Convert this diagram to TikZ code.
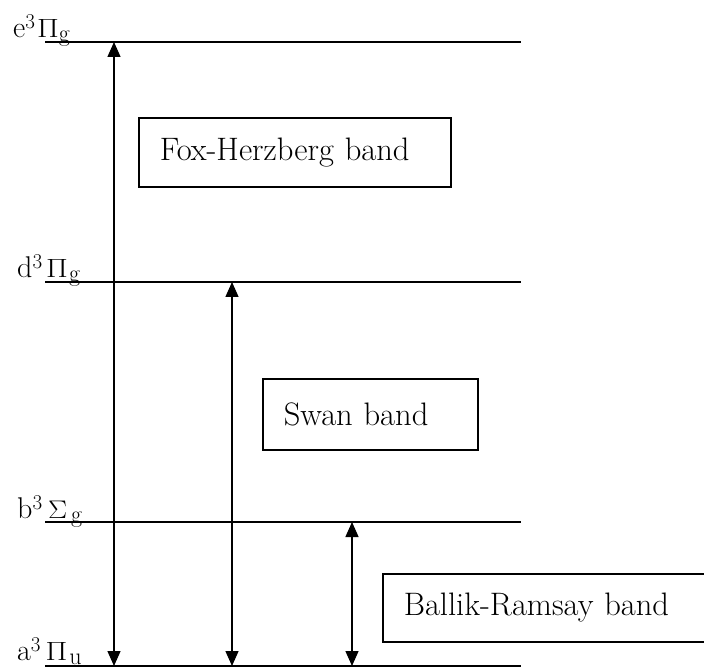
\RequirePackage{fix-cm}
\documentclass[tikz,border=0pt]{standalone}
\usepackage{fontspec}
\usepackage{graphicx}
\usetikzlibrary{arrows.meta}
\newcommand{\bandfont}{\fontsize{32.5}{38}\selectfont}
\newcommand{\levfont}{\fontsize{30}{34}\selectfont}
\newcommand{\lsup}[1]{\raisebox{9pt}{\fontsize{21}{23}\selectfont #1}}
\newcommand{\lsub}[1]{\raisebox{-4pt}{\fontsize{24}{26}\selectfont #1}}
\newcommand{\sqPi}{\scalebox{1.05}[0.88]{$\Pi$}}
\newcommand{\sqSigma}{\scalebox{0.95}[0.85]{$\Sigma$}}
\begin{document}
\begin{tikzpicture}[x=1pt,y=-1pt,
  level/.style={line width=1.6pt},
  trans/.style={line width=1.4pt,
    {Triangle[length=15pt,width=13pt]}-{Triangle[length=15pt,width=13pt]}},
  bandbox/.style={draw,line width=1.6pt,anchor=north west,inner xsep=21pt,
    inner ysep=0pt,align=left,font=\bandfont},
  lab/.style={anchor=base west,inner sep=0pt,font=\levfont}]
\useasboundingbox (0,0) rectangle (704,668);
\clip (0,0) rectangle (704,668);
% level lines
\coordinate (eL) at (45,42);  \coordinate (eR) at (521,42);
\coordinate (dL) at (45,282); \coordinate (dR) at (521,282);
\coordinate (bL) at (45,522); \coordinate (bR) at (521,522);
\coordinate (aL) at (45,666); \coordinate (aR) at (521,666);
\draw[level] (eL) -- (eR);
\draw[level] (dL) -- (dR);
\draw[level] (bL) -- (bR);
\draw[level] (aL) -- (aR);
% labels
\node[lab] (le) at (13,38)  {e\lsup{3}\hspace{2pt}\sqPi\lsub{g}};
\node[lab] (ld) at (17,278) {d\lsup{3}\hspace{4pt}\sqPi\hspace{1pt}\lsub{g}};
\node[lab] (lb) at (17,518) {b\lsup{3}\hspace{6pt}\sqSigma\hspace{4pt}\lsub{g}};
\node[lab] (la) at (17,660) {a\lsup{3}\hspace{5pt}\sqPi\hspace{2pt}\lsub{u}};
% transitions
\coordinate (t1top) at (114,42);  \coordinate (t1bot) at (114,666);
\coordinate (t2top) at (232,282); \coordinate (t2bot) at (232,666);
\coordinate (t3top) at (352,522); \coordinate (t3bot) at (352,666);
\draw[trans] (t1bot) -- (t1top);
\draw[trans] (t2bot) -- (t2top);
\draw[trans] (t3bot) -- (t3top);
% band boxes
\node[bandbox,text width=270pt,minimum height=69pt] (fox) at (138,117) {Fox-Herzberg~band};
\node[bandbox,text width=173pt,minimum height=71pt] (swan) at (262,378) {Swan~band};
\node[bandbox,text width=300pt,minimum height=68pt] (ballik) at (382,573) {Ballik-Ramsay~band};
\end{tikzpicture}
\end{document}
